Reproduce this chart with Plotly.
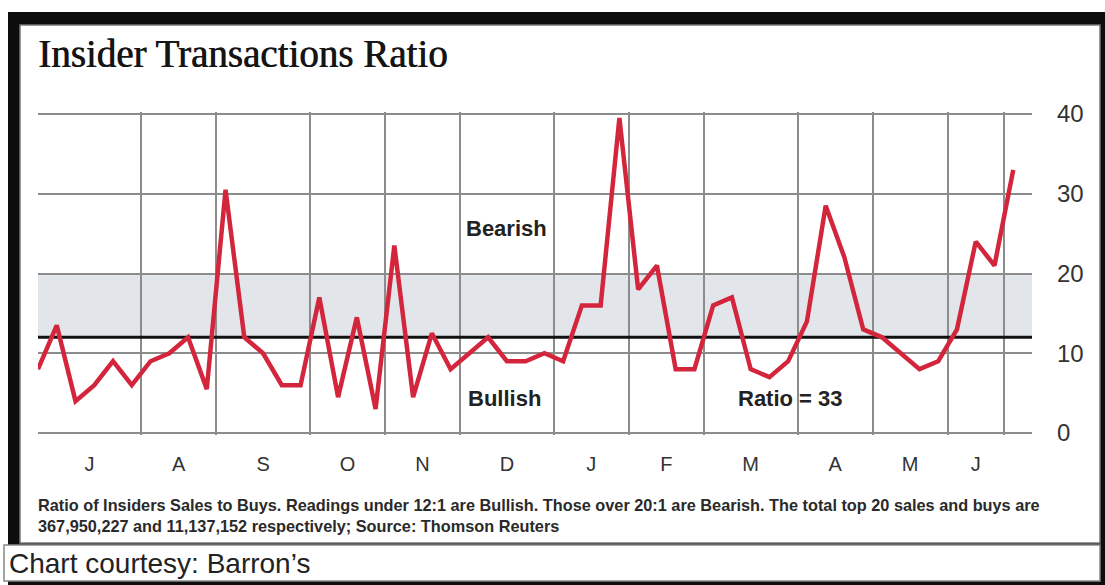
import plotly.graph_objects as go

# Weekly ratio of insider sales to insider buys
ratio = [8, 13.5, 4, 6, 9, 6, 9, 10, 12, 5.5,
         30.5, 12, 10, 6, 6, 17, 4.5, 14.5, 3, 23.5,
         4.5, 12.5, 8, 10, 12, 9, 9, 10, 9, 16,
         16, 39.5, 18, 21, 8, 8, 16, 17, 8, 7,
         9, 14, 28.5, 22, 13, 12, 10, 8, 9, 13,
         24, 21, 33]
weeks = list(range(len(ratio)))

# Month boundaries (in weeks) and their labels
month_bounds = [0, 5.5, 9.5, 14.5, 18.5, 22.5, 27.5, 31.5, 35.5, 40.5, 44.5, 48.5, 51.5]
month_labels = ["J", "A", "S", "O", "N", "D", "J", "F", "M", "A", "M", "J"]
month_mid = [(a + b) / 2 for a, b in zip(month_bounds[:-1], month_bounds[1:])]

y_ticks = [0, 10, 20, 30, 40]
bullish_level = 12
bearish_level = 20
latest = ratio[-1]

W, H = 1105, 585
def px(x):
    return x / W
def py(y):
    return 1 - y / H

# y range padded slightly so the 0 and 40 grid lines are kept
Y_PAD = 0.2
y_lo, y_hi = y_ticks[0] - Y_PAD, y_ticks[-1] + Y_PAD
unit = (433 - 114) / (y_ticks[-1] - y_ticks[0])
y_bottom_px = 433 + Y_PAD * unit
y_top_px = 114 - Y_PAD * unit

GRID = "#8c8c8c"
CREAM = "#f7f5ef"
BAND = "#e2e6ea"
RED = "#d3263d"
SANS = "Liberation Sans, Arial, sans-serif"

fig = go.Figure()
fig.add_trace(go.Scatter(
    x=weeks, y=ratio, mode="lines",
    line=dict(color=RED, width=4.5),
    hoverinfo="skip", showlegend=False,
))

shapes = [
    # neutral zone between bullish and bearish readings
    dict(type="rect", xref="x", yref="y", x0=0, x1=53, y0=bullish_level, y1=bearish_level,
         fillcolor=BAND, line=dict(width=0), layer="below"),
    # bullish threshold line
    dict(type="line", xref="x", yref="y", x0=0, x1=53, y0=bullish_level, y1=bullish_level,
         line=dict(color="#111111", width=3), layer="between"),
    # outer black frame
    dict(type="rect", xref="paper", yref="paper", x0=px(8), x1=px(1105), y0=py(585), y1=py(12),
         fillcolor="#0d0d0d", line=dict(width=0), layer="below"),
    dict(type="rect", xref="paper", yref="paper", x0=px(20), x1=px(1100), y0=py(543), y1=py(25),
         fillcolor="white", line=dict(color="#777777", width=1.5), layer="below"),
    # credit line box
    dict(type="rect", xref="paper", yref="paper", x0=px(4), x1=px(1100), y0=py(581), y1=py(545),
         fillcolor="white", line=dict(color="#888888", width=1.5), layer="below"),
]

annotations = [
    dict(text="Insider Transactions Ratio", xref="paper", yref="paper",
         x=px(36), y=py(53), xanchor="left", yanchor="middle", showarrow=False,
         font=dict(family="Liberation Serif, Times New Roman, serif", size=39, color="#151515",
                   shadow="0.7px 0px 0px #151515")),
    dict(text="<b>Bearish</b>", xref="x", yref="y", x=25.0, y=25.7, showarrow=False,
         font=dict(family=SANS, size=22, color="#222222")),
    dict(text="<b>Bullish</b>", xref="x", yref="y", x=24.85, y=4.3, showarrow=False,
         font=dict(family=SANS, size=22, color="#222222")),
    dict(text=f"<b>Ratio = {latest:g}</b>", xref="x", yref="y", x=40.1, y=4.3, showarrow=False,
         font=dict(family=SANS, size=22, color="#222222")),
    dict(text="<b>Ratio of Insiders Sales to Buys. Readings under 12:1 are Bullish. Those over 20:1 are Bearish. "
              "The total top 20 sales and buys are<br>367,950,227 and 11,137,152 respectively; Source: Thomson Reuters</b>",
         xref="paper", yref="paper", x=px(36), y=py(515), xanchor="left", yanchor="middle",
         align="left", showarrow=False,
         font=dict(family=SANS, size=16.3, color="#2a2a2a")),
    dict(text="Chart courtesy: Barron’s", xref="paper", yref="paper",
         x=px(7), y=py(563), xanchor="left", yanchor="middle", showarrow=False,
         font=dict(family=SANS, size=28, color="#222222")),
]

fig.update_layout(
    width=W, height=H,
    margin=dict(l=0, r=0, t=0, b=0, autoexpand=False),
    paper_bgcolor="white",
    plot_bgcolor=CREAM,
    shapes=shapes,
    annotations=annotations,
    showlegend=False,
    xaxis=dict(
        domain=[px(38), px(1032)], range=[0, 53],
        tickmode="array", tickvals=month_mid, ticktext=month_labels,
        showgrid=False, zeroline=False, showline=False, ticks="",
        ticklabelstandoff=15,
        tickfont=dict(family=SANS, size=20, color="#333333"),
        minor=dict(tickmode="array", tickvals=month_bounds[1:], showgrid=True,
                   gridcolor=GRID, gridwidth=2, ticks=""),
        fixedrange=True,
    ),
    yaxis=dict(
        domain=[py(y_bottom_px), py(y_top_px)], range=[y_lo, y_hi], side="right",
        tickmode="array", tickvals=y_ticks,
        showgrid=True, gridcolor=GRID, gridwidth=2,
        zeroline=False, showline=False, ticks="",
        ticklabelstandoff=24,
        tickfont=dict(family=SANS, size=24, color="#333333"),
        fixedrange=True,
    ),
)

fig.write_html("out.html", config={"displayModeBar": False})
